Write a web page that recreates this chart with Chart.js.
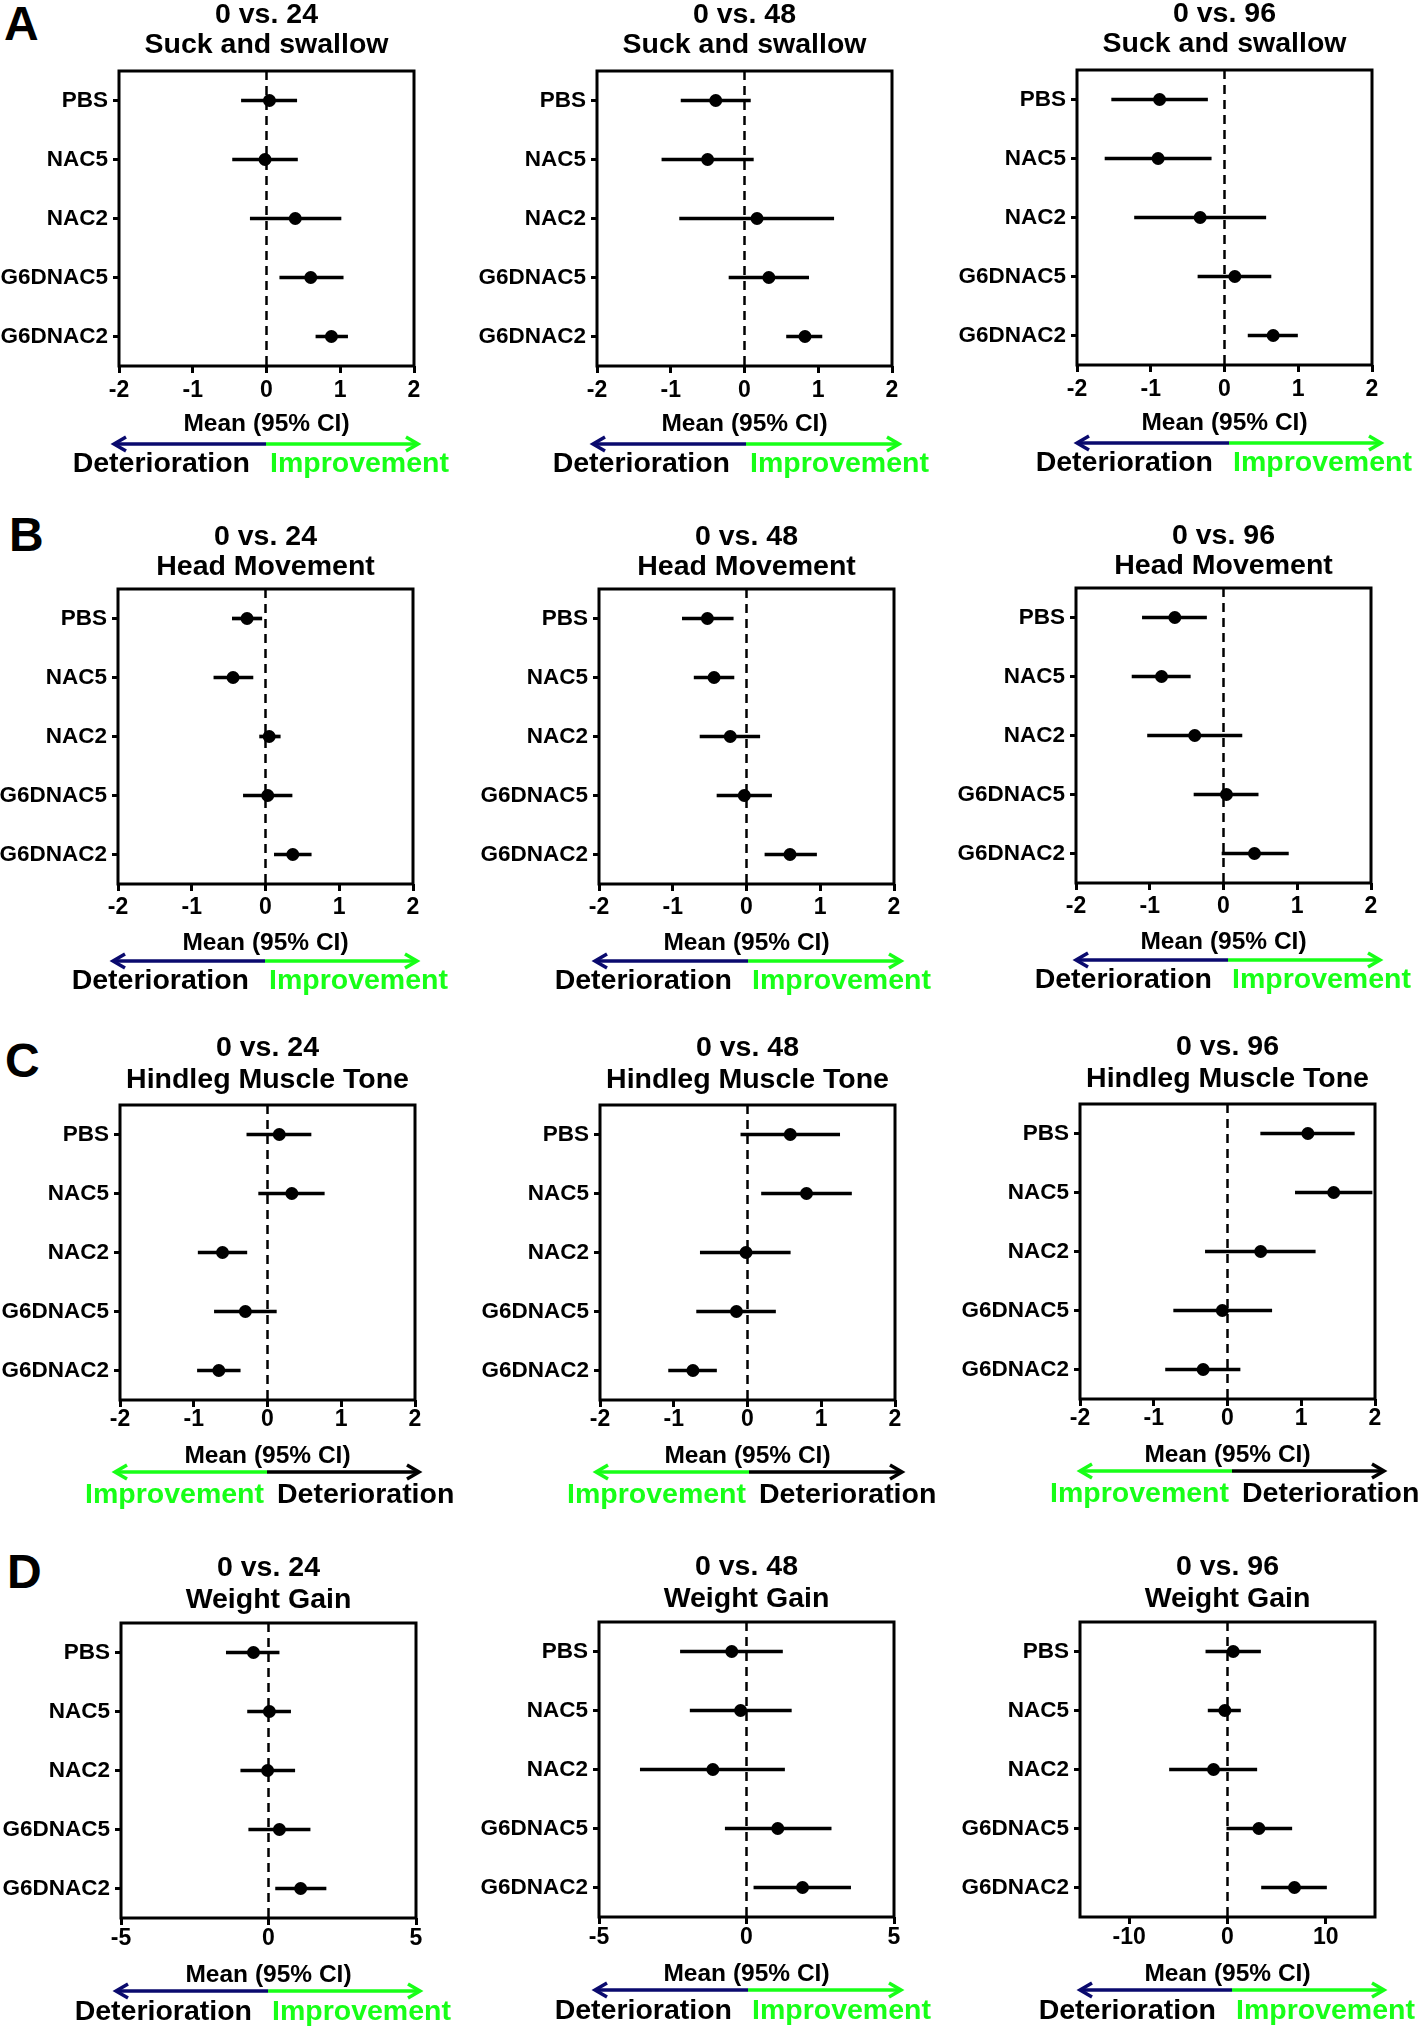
<!DOCTYPE html>
<html>
<head>
<meta charset="utf-8">
<script src="https://cdn.jsdelivr.net/npm/chart.js@4.4.0/dist/chart.umd.min.js"></script>
<style>
  html, body { margin: 0; padding: 0; background: #fff; width: 1418px; height: 2032px; overflow: hidden; position: relative; }
  canvas { position: absolute; }
  .tag { position: absolute; font: bold 48px/1 "Liberation Sans", Arial, sans-serif; color: #000; }
</style>
</head>
<body>
<div class="tag" style="left:4px;top:0px">A</div>
<div class="tag" style="left:9px;top:511px">B</div>
<div class="tag" style="left:5px;top:1037px">C</div>
<div class="tag" style="left:7px;top:1548px">D</div>
<script>
// groups, comparisons, measures
const groups = ['PBS', 'NAC5', 'NAC2', 'G6DNAC5', 'G6DNAC2'];
const comparisons = ['0 vs. 24', '0 vs. 48', '0 vs. 96'];
const measures = ['Suck and swallow', 'Head Movement', 'Hindleg Muscle Tone', 'Weight Gain'];

// tick labels
const scoreTicks = [-2, -1, 0, 1, 2];
const weightTicks = [-5, 0, 5];
const weight96Ticks = [-10, 0, 10];
const scoreRange = [-2, 2];
const weightRange = [-5, 5];
const weight96Range = [-15, 15];

// A - suck and swallow
const suck24Mean = [0.04, -0.02, 0.39, 0.60, 0.88];
const suck24Low  = [-0.34, -0.46, -0.22, 0.18, 0.67];
const suck24High = [0.41, 0.42, 1.01, 1.04, 1.10];
const suck48Mean = [-0.39, -0.50, 0.17, 0.33, 0.82];
const suck48Low  = [-0.86, -1.12, -0.88, -0.21, 0.57];
const suck48High = [0.08, 0.12, 1.21, 0.87, 1.05];
const suck96Mean = [-0.88, -0.90, -0.33, 0.14, 0.66];
const suck96Low  = [-1.53, -1.62, -1.22, -0.36, 0.32];
const suck96High = [-0.23, -0.18, 0.56, 0.63, 0.99];

// B - head movement
const head24Mean = [-0.25, -0.44, 0.05, 0.03, 0.37];
const head24Low  = [-0.45, -0.70, -0.08, -0.30, 0.12];
const head24High = [-0.05, -0.17, 0.20, 0.36, 0.62];
const head48Mean = [-0.53, -0.44, -0.22, -0.03, 0.59];
const head48Low  = [-0.87, -0.71, -0.63, -0.40, 0.25];
const head48High = [-0.18, -0.17, 0.18, 0.34, 0.95];
const head96Mean = [-0.66, -0.84, -0.39, 0.04, 0.42];
const head96Low  = [-1.10, -1.24, -1.03, -0.40, -0.02];
const head96High = [-0.23, -0.45, 0.25, 0.47, 0.88];

// C - hindleg muscle tone
const tone24Mean = [0.16, 0.33, -0.61, -0.30, -0.66];
const tone24Low  = [-0.28, -0.12, -0.94, -0.72, -0.95];
const tone24High = [0.59, 0.77, -0.28, 0.12, -0.37];
const tone48Mean = [0.58, 0.80, -0.02, -0.15, -0.74];
const tone48Low  = [-0.09, 0.19, -0.64, -0.69, -1.07];
const tone48High = [1.25, 1.41, 0.58, 0.38, -0.42];
const tone96Mean = [1.09, 1.44, 0.45, -0.07, -0.33];
const tone96Low  = [0.45, 0.92, -0.30, -0.73, -0.84];
const tone96High = [1.72, 1.96, 1.19, 0.60, 0.17];

// D - weight gain
const weight24Mean = [-0.51, 0.03, -0.03, 0.37, 1.09];
const weight24Low  = [-1.43, -0.71, -0.94, -0.67, 0.24];
const weight24High = [0.36, 0.75, 0.89, 1.41, 1.95];
const weight48Mean = [-0.50, -0.20, -1.14, 1.06, 1.90];
const weight48Low  = [-2.24, -1.91, -3.60, -0.72, 0.25];
const weight48High = [1.22, 1.52, 1.29, 2.87, 3.53];
const weight96Mean = [0.58, -0.27, -1.42, 3.19, 6.81];
const weight96Low  = [-2.20, -1.97, -5.90, -0.07, 3.46];
const weight96High = [3.36, 1.32, 2.98, 6.54, 10.07];

const panels = [
  { title: [comparisons[0], measures[0]], mean: suck24Mean, lo: suck24Low, hi: suck24High, range: scoreRange, ticks: scoreTicks },
  { title: [comparisons[1], measures[0]], mean: suck48Mean, lo: suck48Low, hi: suck48High, range: scoreRange, ticks: scoreTicks },
  { title: [comparisons[2], measures[0]], mean: suck96Mean, lo: suck96Low, hi: suck96High, range: scoreRange, ticks: scoreTicks },
  { title: [comparisons[0], measures[1]], mean: head24Mean, lo: head24Low, hi: head24High, range: scoreRange, ticks: scoreTicks },
  { title: [comparisons[1], measures[1]], mean: head48Mean, lo: head48Low, hi: head48High, range: scoreRange, ticks: scoreTicks },
  { title: [comparisons[2], measures[1]], mean: head96Mean, lo: head96Low, hi: head96High, range: scoreRange, ticks: scoreTicks },
  { title: [comparisons[0], measures[2]], mean: tone24Mean, lo: tone24Low, hi: tone24High, range: scoreRange, ticks: scoreTicks },
  { title: [comparisons[1], measures[2]], mean: tone48Mean, lo: tone48Low, hi: tone48High, range: scoreRange, ticks: scoreTicks },
  { title: [comparisons[2], measures[2]], mean: tone96Mean, lo: tone96Low, hi: tone96High, range: scoreRange, ticks: scoreTicks },
  { title: [comparisons[0], measures[3]], mean: weight24Mean, lo: weight24Low, hi: weight24High, range: weightRange, ticks: weightTicks },
  { title: [comparisons[1], measures[3]], mean: weight48Mean, lo: weight48Low, hi: weight48High, range: weightRange, ticks: weightTicks },
  { title: [comparisons[2], measures[3]], mean: weight96Mean, lo: weight96Low, hi: weight96High, range: weight96Range, ticks: weight96Ticks }
];

// layout (page px): plot box top-left per panel
const boxPos = [[119, 71], [597, 71], [1077, 70], [118, 589], [599, 589], [1076, 588],
                [120, 1105], [600, 1105], [1080, 1104], [121, 1623], [599, 1622], [1080, 1622]];
const BOX_W = 295, BOX_H = 295;
const LEFTM = 119, TOPM = 80, CANVAS_H = 510;
// per row: title line centres above box, tick / axis title / arrow / label offsets below box
const rowStyle = [
  { t1: 56, t2: 26, tick: 25, mean: 58, arrow: 78, label: 98, flip: false },
  { t1: 52, t2: 22, tick: 24, mean: 59, arrow: 77, label: 97, flip: false },
  { t1: 57, t2: 25, tick: 20, mean: 56, arrow: 72, label: 95, flip: true },
  { t1: 55, t2: 23, tick: 21, mean: 57, arrow: 73, label: 94, flip: false }
];
const colArrow = [[-6, 5], [-5, 8], [-1, 10]];

const FONT = '"Liberation Sans", Arial, sans-serif';
const NAVY = '#0a0a6e';
const GREEN = '#17ff17';

const decor = {
  id: 'decor',
  beforeDatasetsDraw(chart) {
    const { ctx, chartArea: a, scales: { x } } = chart;
    const zx = x.getPixelForValue(0);
    ctx.save();
    ctx.strokeStyle = '#000';
    ctx.lineWidth = 2.5;
    ctx.setLineDash([9, 6]);
    ctx.beginPath();
    ctx.moveTo(zx, a.top);
    ctx.lineTo(zx, a.bottom);
    ctx.stroke();
    ctx.setLineDash([]);
    ctx.lineWidth = 3;
    ctx.strokeRect(a.left, a.top, a.right - a.left, a.bottom - a.top);
    ctx.restore();
  },
  afterDraw(chart, args, opts) {
    const { ctx, chartArea: a } = chart;
    const x0 = a.left + opts.arrowL, x1 = a.right + opts.arrowR;
    const mid = (x0 + x1) / 2;
    const y = a.bottom + opts.arrowY;
    const leftCol = opts.flip ? GREEN : NAVY;
    const rightCol = opts.flip ? '#000' : GREEN;
    ctx.save();
    ctx.lineWidth = 3.5;
    ctx.lineJoin = 'miter';
    ctx.strokeStyle = leftCol;
    ctx.beginPath(); ctx.moveTo(x0 + 1, y); ctx.lineTo(mid, y); ctx.stroke();
    ctx.beginPath(); ctx.moveTo(x0 + 13, y - 7); ctx.lineTo(x0 + 1, y); ctx.lineTo(x0 + 13, y + 7); ctx.stroke();
    ctx.strokeStyle = rightCol;
    ctx.beginPath(); ctx.moveTo(mid, y); ctx.lineTo(x1 - 1, y); ctx.stroke();
    ctx.beginPath(); ctx.moveTo(x1 - 13, y - 7); ctx.lineTo(x1 - 1, y); ctx.lineTo(x1 - 13, y + 7); ctx.stroke();

    ctx.font = 'bold 28.5px ' + FONT;
    ctx.textBaseline = 'middle';
    const ly = a.bottom + opts.labelY;
    if (opts.flip) {
      ctx.fillStyle = GREEN; ctx.textAlign = 'right';
      ctx.fillText('Improvement', mid - 3, ly);
      ctx.fillStyle = '#000'; ctx.textAlign = 'left';
      ctx.fillText('Deterioration', mid + 10, ly);
    } else {
      ctx.fillStyle = '#000'; ctx.textAlign = 'right';
      ctx.fillText('Deterioration', mid - 16, ly);
      ctx.fillStyle = GREEN; ctx.textAlign = 'left';
      ctx.fillText('Improvement', mid + 4, ly);
    }
    ctx.restore();
  }
};

panels.forEach((p, i) => {
  const row = Math.floor(i / 3), col = i % 3;
  const rs = rowStyle[row];
  const [bx, by] = boxPos[i];
  const left = bx - LEFTM, top = by - TOPM;
  const width = Math.min(470, 1418 - left);

  const cv = document.createElement('canvas');
  cv.width = width;
  cv.height = CANVAS_H;
  cv.style.left = left + 'px';
  cv.style.top = top + 'px';
  document.body.appendChild(cv);

  const spacing = rs.t1 - rs.t2;
  const padTop = TOPM - rs.t1 - spacing / 2;
  const padBottom = TOPM - padTop - 2 * spacing;
  const xAxisH = CANVAS_H - TOPM - BOX_H;

  new Chart(cv, {
    type: 'bar',
    data: {
      labels: groups,
      datasets: [
        {
          type: 'line',
          indexAxis: 'y',
          data: p.mean,
          showLine: false,
          pointRadius: 6.5,
          pointHoverRadius: 6.5,
          pointBorderWidth: 0,
          pointBackgroundColor: '#000',
          borderColor: '#000',
          order: 0
        },
        {
          type: 'bar',
          indexAxis: 'y',
          data: p.lo.map((v, k) => [v, p.hi[k]]),
          backgroundColor: '#000',
          borderWidth: 0,
          barThickness: 3,
          order: 1
        }
      ]
    },
    options: {
      indexAxis: 'y',
      responsive: false,
      animation: false,
      events: [],
      layout: { padding: { left: 0, top: 0, bottom: 0, right: width - LEFTM - BOX_W }, autoPadding: false },
      plugins: {
        legend: { display: false },
        tooltip: { enabled: false },
        title: {
          display: true,
          text: p.title,
          fullSize: false,
          color: '#000',
          font: { family: FONT, size: 28.5, weight: 'bold', lineHeight: spacing + 'px' },
          padding: { top: padTop, bottom: padBottom }
        },
        decor: {
          arrowL: colArrow[col][0], arrowR: colArrow[col][1],
          arrowY: rs.arrow, labelY: rs.label, flip: rs.flip
        }
      },
      scales: {
        x: {
          type: 'linear',
          min: p.range[0],
          max: p.range[1],
          afterBuildTicks: s => { s.ticks = p.ticks.map(v => ({ value: v })); },
          afterFit: s => { s.height = xAxisH; },
          border: { display: false },
          grid: { drawOnChartArea: false, drawTicks: true, tickLength: 7, color: '#000', lineWidth: 3 },
          ticks: {
            color: '#000',
            padding: rs.tick - 7 - 11.5,
            maxRotation: 0,
            font: { family: FONT, size: 23, weight: 'bold', lineHeight: 1 }
          },
          title: {
            display: true,
            text: 'Mean (95% CI)',
            color: '#000',
            font: { family: FONT, size: 24.5, weight: 'bold', lineHeight: 1 },
            padding: { top: 0, bottom: xAxisH - rs.mean - 12.25 }
          }
        },
        y: {
          type: 'category',
          offset: true,
          afterFit: s => { s.width = LEFTM; },
          border: { display: false },
          grid: { offset: false, drawOnChartArea: false, drawTicks: true, tickLength: 6, color: '#000', lineWidth: 3 },
          ticks: {
            color: '#000',
            padding: 5,
            font: { family: FONT, size: 22.5, weight: 'bold' }
          }
        }
      }
    },
    plugins: [decor]
  });
});
</script>
</body>
</html>
